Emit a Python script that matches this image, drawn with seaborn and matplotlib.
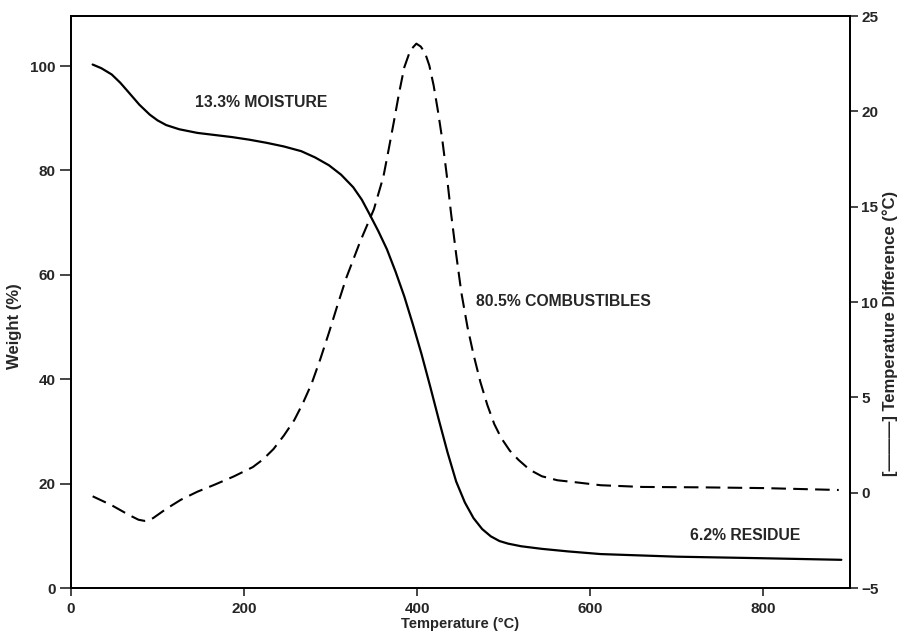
import matplotlib
matplotlib.use("Agg")
import matplotlib.pyplot as plt
import seaborn as sns
import pandas as pd

# ---- data ----
weight_temp = [25, 35, 47, 57, 67, 79, 91, 100, 110, 125, 146, 166, 186, 206, 226,
               246, 266, 282, 298, 312, 326, 336, 345, 355, 365, 375, 385, 395,
               405, 415, 425, 435, 445, 455, 465, 475, 485, 495, 505, 520, 544,
               575, 612, 700, 800, 890]
weight_pct = [100.3, 99.6, 98.4, 96.8, 94.9, 92.6, 90.7, 89.6, 88.7, 87.9, 87.2,
              86.8, 86.4, 85.9, 85.3, 84.6, 83.7, 82.5, 81.0, 79.2, 76.8, 74.4,
              71.6, 68.4, 64.9, 60.6, 55.9, 50.5, 44.8, 38.6, 32.2, 26.0, 20.4,
              16.4, 13.4, 11.3, 9.9, 9.0, 8.5, 8.0, 7.5, 7.0, 6.5, 6.0, 5.7, 5.4]

dta_temp = [25, 47, 67, 78, 85, 90, 95, 110, 127, 146, 166, 188, 210, 222, 234,
            246, 258, 268, 278, 288, 298, 308, 318, 334, 350, 361, 367, 373, 379,
            385, 392, 399, 404, 409, 414, 419, 424, 429, 434, 439, 445, 451, 458,
            465, 473, 481, 489, 497, 507, 517, 530, 544, 562, 584, 612, 660, 727,
            800, 887]
dta_diff = [-0.19, -0.66, -1.17, -1.42, -1.48, -1.45, -1.33, -0.85, -0.37, 0.05,
            0.42, 0.85, 1.34, 1.75, 2.29, 3.0, 3.81, 4.7, 5.72, 7.0, 8.39, 9.85,
            11.26, 13.16, 14.87, 16.59, 18.0, 19.45, 20.95, 22.3, 23.2, 23.55,
            23.4, 23.07, 22.4, 21.35, 20.0, 18.5, 16.7, 14.68, 12.5, 10.49, 8.7,
            7.25, 5.8, 4.6, 3.6, 2.87, 2.2, 1.72, 1.2, 0.86, 0.65, 0.54, 0.39,
            0.3, 0.28, 0.24, 0.14]

x_ticks = [0, 200, 400, 600, 800]
left_ticks = [0, 20, 40, 60, 80, 100]
right_ticks = [-5, 0, 5, 10, 15, 20, 25]

annotations = [("13.3% MOISTURE", 143, 93.1),
               ("80.5% COMBUSTIBLES", 468, 54.8),
               ("6.2% RESIDUE", 715, 10.0)]

sns.set_style("ticks")
plt.rcParams['font.family'] = ['Liberation Sans', 'DejaVu Sans']
plt.rcParams['font.weight'] = 'bold'

fig = plt.figure(figsize=(9.02, 6.34), dpi=100)
ax = fig.add_axes([71 / 902, 1 - 588 / 634, (850 - 71) / 902, (588 - 16) / 634])
ax2 = ax.twinx()

dfw = pd.DataFrame({"T": weight_temp, "W": weight_pct})
dfd = pd.DataFrame({"T": dta_temp, "D": dta_diff})

sns.lineplot(data=dfw, x="T", y="W", ax=ax, color="black", linewidth=1.6,
             sort=False, estimator=None)
sns.lineplot(data=dfd, x="T", y="D", ax=ax2, color="black", linewidth=1.5,
             sort=False, estimator=None, dashes=False)
ax2.lines[0].set_dashes([7, 3.5])

ax.set_xlim(0, 900)
ax.set_ylim(0, 109.6)
ax2.set_ylim(-5, 25)
ax.set_xticks(x_ticks)
ax.set_yticks(left_ticks)
ax2.set_yticks(right_ticks)

for a in (ax, ax2):
    for s in a.spines.values():
        s.set_visible(True)
        s.set_linewidth(1.3)
        s.set_color("black")

ax.tick_params(axis='y', direction='out', length=8, width=1.2, labelsize=11, pad=3)
ax.tick_params(axis='x', direction='out', length=6, width=1.2, labelsize=11, pad=4)
ax2.tick_params(axis='y', direction='out', length=6, width=1.2, labelsize=11, pad=2)
for lbl in ax.get_xticklabels() + ax.get_yticklabels() + ax2.get_yticklabels():
    lbl.set_fontweight('bold')

ax.set_xlabel("Temperature (°C)", fontsize=10.5, fontweight='bold', labelpad=1)
ax.set_ylabel("Weight (%)", fontsize=12, fontweight='bold', labelpad=6)
ax.yaxis.label.set_y(0.458)
ax2.set_ylabel("[———] Temperature Difference (°C)", fontsize=12,
               fontweight='bold', labelpad=3)
ax2.yaxis.label.set_y(0.445)

for txt, xv, yv in annotations:
    ax.text(xv, yv, txt, fontsize=11.3, fontweight='bold', ha='left', va='center')

fig.savefig("out.png", dpi=100)
